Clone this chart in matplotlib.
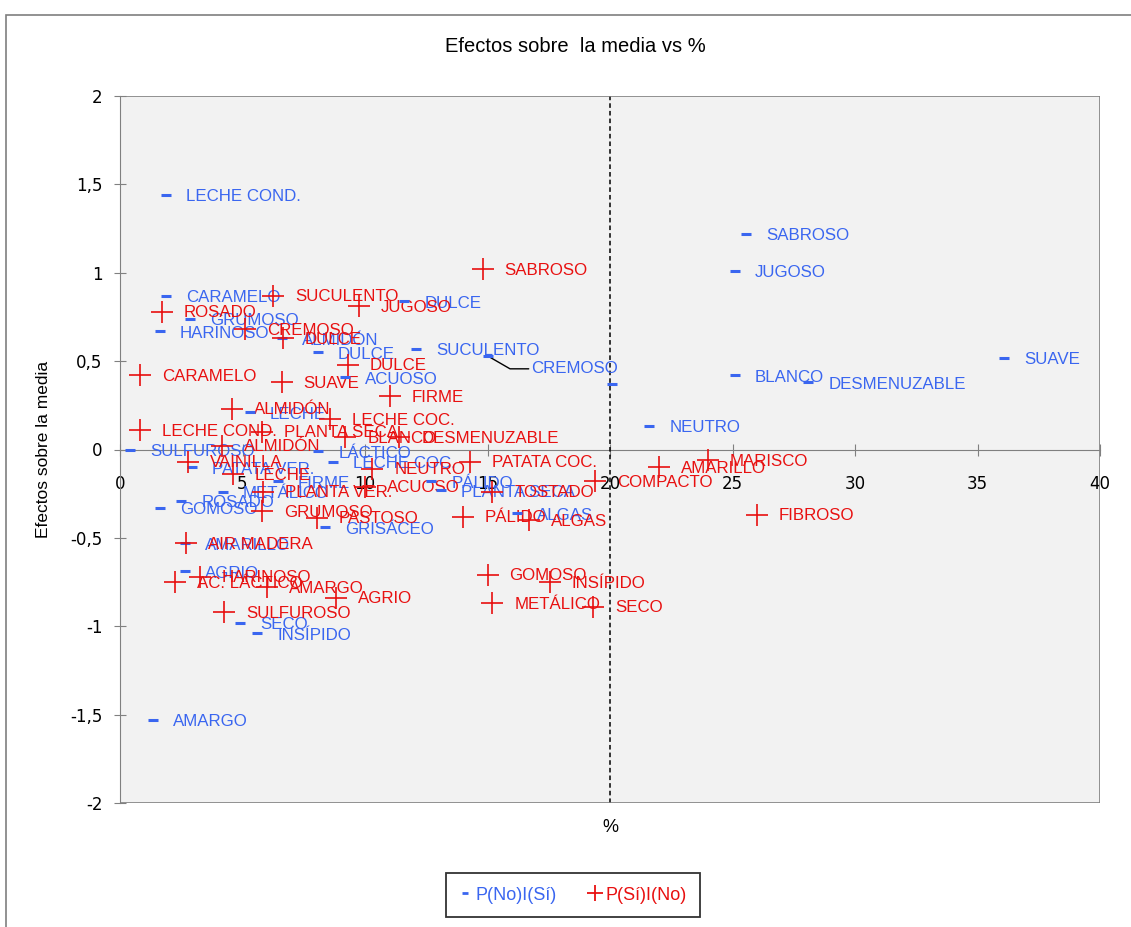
import matplotlib
matplotlib.use("Agg")
import matplotlib.pyplot as plt
from matplotlib.lines import Line2D
from matplotlib.patches import Rectangle
from matplotlib.ticker import FuncFormatter

# P(No)I(Sí)
blue_labels = ["LECHE COND.", "CARAMELO", "HARINOSO", "GRUMOSO", "ALMIDÓN", "DULCE", "DULCE",
               "SUCULENTO", "CREMOSO", "", "SABROSO", "JUGOSO", "BLANCO", "DESMENUZABLE",
               "SUAVE", "NEUTRO", "ACUOSO", "LECHE", "SULFUROSO", "PATATA VER.", "LÁCTICO",
               "LECHE COC.", "FIRME", "PÁLIDO", "PLANTA SECA", "METÁLICO", "ROSADO", "GOMOSO",
               "ALGAS", "GRISÁCEO", "AMARILLO", "AGRIO", "SECO", "INSÍPIDO", "AMARGO"]
blue_x = [1.88, 1.88, 1.63, 2.86, 6.6, 8.08, 11.6,
          12.1, 15.0, 20.1, 25.55, 25.1, 25.1, 28.1,
          36.1, 21.6, 9.2, 5.3, 0.4, 2.94, 8.1,
          8.7, 6.45, 12.7, 13.1, 4.2, 2.5, 1.63,
          16.2, 8.37, 2.65, 2.65, 4.9, 5.6, 1.35]
blue_y = [1.44, 0.87, 0.67, 0.74, 0.63, 0.55, 0.84,
          0.57, 0.53, 0.37, 1.22, 1.01, 0.42, 0.38,
          0.52, 0.135, 0.41, 0.21, 0.0, -0.10, -0.01,
          -0.07, -0.18, -0.18, -0.23, -0.24, -0.29, -0.33,
          -0.36, -0.44, -0.53, -0.69, -0.98, -1.04, -1.53]

# P(Sí)I(No)
red_labels = ["SABROSO", "SUCULENTO", "JUGOSO", "ROSADO", "CREMOSO", "DULCE", "DULCE",
              "CARAMELO", "SUAVE", "FIRME", "ALMIDÓN", "LECHE COC.", "LECHE COND.",
              "PLANTA SECA", "BLANCO", "DESMENUZABLE", "ALMIDÓN", "VAINILLA", "PATATA COC.",
              "NEUTRO", "LECHE", "AMARILLO", "MARISCO", "COMPACTO", "ACUOSO", "PLANTA VER.",
              "TOSTADO", "GRUMOSO", "FIBROSO", "PÁLIDO", "PASTOSO", "ALGAS", "AIR MADERA",
              "GOMOSO", "HARINOSO", "AC. LÁCTICO", "INSÍPIDO", "AMARGO", "AGRIO", "METÁLICO",
              "SECO", "SULFUROSO"]
red_x = [14.8, 6.25, 9.76, 1.7, 5.1, 6.65, 9.3,
         0.82, 6.6, 11.0, 4.57, 8.57, 0.82,
         5.8, 9.2, 11.4, 4.16, 2.78, 14.3,
         10.3, 4.6, 22.0, 24.0, 19.4, 10.0, 5.85,
         15.2, 5.8, 26.0, 14.0, 8.04, 16.7, 2.7,
         15.0, 3.27, 2.24, 17.55, 6.0, 8.8, 15.2,
         19.3, 4.24]
red_y = [1.02, 0.87, 0.81, 0.78, 0.68, 0.63, 0.48,
         0.42, 0.38, 0.30, 0.23, 0.17, 0.11,
         0.10, 0.07, 0.07, 0.02, -0.07, -0.07,
         -0.11, -0.14, -0.10, -0.06, -0.18, -0.21, -0.24,
         -0.24, -0.35, -0.37, -0.38, -0.385, -0.40, -0.53,
         -0.71, -0.72, -0.75, -0.75, -0.78, -0.84, -0.87,
         -0.89, -0.92]

x_ticks = [0, 5, 10, 15, 20, 25, 30, 35, 40]
y_ticks = [-2, -1.5, -1, -0.5, 0, 0.5, 1, 1.5, 2]

BLUE = "#3A66F0"
RED = "#E81010"
LAB_FONT = ["Liberation Sans", "DejaVu Sans"]
NARROW = ["Liberation Sans Narrow", "Liberation Sans", "DejaVu Sans"]
LAB_SIZE = 12.2

fig = plt.figure(figsize=(11.31, 9.27), dpi=100)
fig.patch.set_facecolor("white")
# borde del área del gráfico (recortado a la derecha y abajo, como en la captura)
fig.add_artist(Rectangle((6 / 1131, -0.05), 1.2, 1 - 15 / 927 + 0.05, transform=fig.transFigure,
                         fill=False, edgecolor="#7f7f7f", linewidth=1.2))

ax = fig.add_axes([120 / 1131, 1 - 803 / 927, 980 / 1131, 707 / 927])
ax.set_facecolor("#F2F2F2")
ax.set_xlim(0, 40)
ax.set_ylim(-2, 2)

for s in ["top", "right"]:
    ax.spines[s].set_visible(False)
ax.spines["bottom"].set_position(("data", 0))
ax.spines["bottom"].set_color("#808080")
ax.spines["left"].set_color("#808080")
ax.add_patch(Rectangle((0, 0), 1, 1, transform=ax.transAxes, fill=False,
                       edgecolor="#808080", linewidth=1.2, zorder=5))

ax.set_xticks(x_ticks)
ax.set_yticks(y_ticks)
ax.yaxis.set_major_formatter(FuncFormatter(lambda v, p: ("%g" % v).replace(".", ",")))
ax.tick_params(axis="both", direction="inout", length=9, color="#808080", labelsize=12)
ax.tick_params(axis="x", pad=14)
ax.tick_params(axis="y", pad=8)

ax.axvline(20, color="black", linestyle=(0, (3, 2)), linewidth=1.1, zorder=3)

ax.scatter(blue_x, blue_y, marker="_", s=60, linewidths=2.2, color=BLUE, zorder=4)
ax.scatter(red_x, red_y, marker="+", s=260, linewidths=1.2, color=RED, zorder=4)

for lab, x, y in zip(blue_labels, blue_x, blue_y):
    if lab == "CREMOSO":
        ax.annotate(lab, (x, y), xytext=(44, -13), textcoords="offset pixels",
                    va="center", ha="left", color=BLUE, fontsize=LAB_SIZE, family=LAB_FONT,
                    arrowprops=dict(arrowstyle="-", color="black", lw=1,
                                    connectionstyle="angle,angleA=0,angleB=-30,rad=0",
                                    shrinkA=0, shrinkB=0))
        continue
    ax.annotate(lab, (x, y), xytext=(20, -2), textcoords="offset pixels",
                va="center", ha="left", color=BLUE, fontsize=LAB_SIZE, family=LAB_FONT)

for lab, x, y in zip(red_labels, red_x, red_y):
    ax.annotate(lab, (x, y), xytext=(22, -1), textcoords="offset pixels",
                va="center", ha="left", color=RED, fontsize=LAB_SIZE, family=LAB_FONT)

ax.set_ylabel("Efectos sobre la media", fontsize=12.5, family=NARROW, labelpad=14)
ax.text(0.5, -0.035, "%", transform=ax.transAxes, ha="center", va="center",
        fontsize=13, family=NARROW)
fig.text(575 / 1131, 1 - 47 / 927, "Efectos sobre  la media vs %", ha="center", va="center",
         fontsize=14.5, family=NARROW)

handles = [Line2D([], [], marker="_", linestyle="none", color=BLUE, markersize=4, markeredgewidth=2),
           Line2D([], [], marker="+", linestyle="none", color=RED, markersize=11, markeredgewidth=1.3)]
leg = fig.legend(handles, ["P(No)I(Sí)", "P(Sí)I(No)"], loc="center",
                 bbox_to_anchor=(573 / 1131, 1 - 895 / 927), ncol=2, frameon=True,
                 fancybox=False, edgecolor="black", handlelength=0.6,
                 handletextpad=0.3, columnspacing=1.8, borderpad=0.75,
                 prop={"family": NARROW, "size": 13})
leg.get_frame().set_linewidth(1.3)
leg.get_texts()[0].set_color(BLUE)
leg.get_texts()[1].set_color(RED)

fig.savefig("out.png", dpi=100)
